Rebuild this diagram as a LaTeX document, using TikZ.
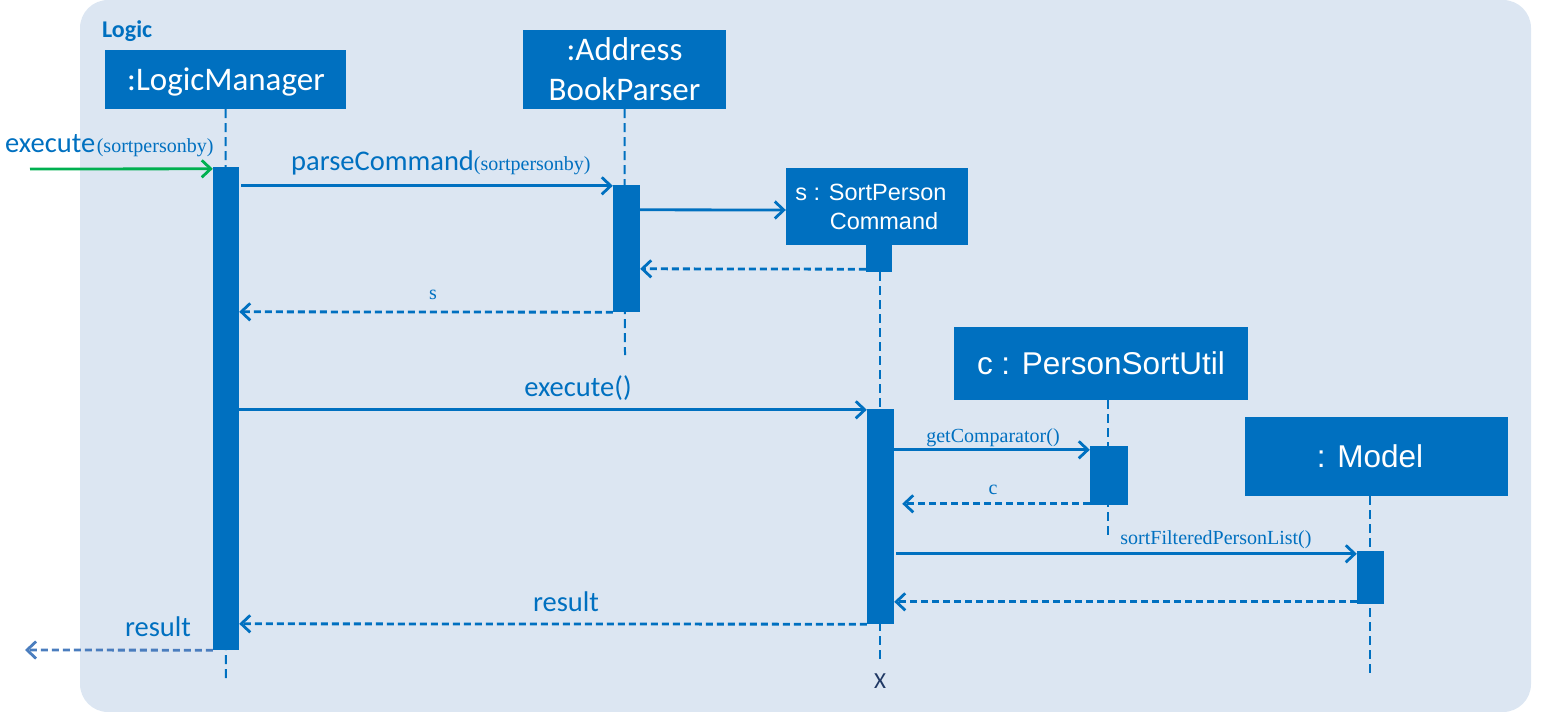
\documentclass[tikz,border=0pt]{standalone}
\usepackage{fontspec}
\setmainfont{Carlito}
\newfontfamily\arialf{Liberation Sans}
\newfontfamily\timesf{Liberation Serif}
\usetikzlibrary{arrows.meta,calc}
\definecolor{ublue}{HTML}{0070C0}
\definecolor{bgc}{HTML}{DCE6F2}
\definecolor{ugreen}{HTML}{00B050}
\definecolor{navy}{HTML}{1F3864}
\definecolor{outblue}{RGB}{74,125,190}
\begin{document}
\begin{tikzpicture}[x=1pt,y=-1pt,
  objbox/.style={fill=ublue,text=white,inner sep=0pt,align=center},
  actbar/.style={fill=ublue,inner sep=0pt,minimum width=26pt},
  lifeline/.style={draw=ublue,line width=2pt,dash pattern=on 9pt off 5pt},
  msg/.style={draw=ublue,line width=2.8pt,-{Straight Barb[length=9pt,width=17pt]}},
  ret/.style={msg,dash pattern=on 7pt off 4pt},
  lbl/.style={text=ublue,inner sep=0pt,anchor=base},
  bigf/.style={font=\fontsize{28.5}{34}\selectfont},
  smallf/.style={font=\timesf\fontsize{20}{24}\selectfont},
  calbox/.style={font=\fontsize{33}{40}\selectfont},
]
\useasboundingbox (0,0) rectangle (1564,712);
\fill[bgc,rounded corners=28pt] (80,0) rectangle (1531,712);
\node[lbl,anchor=base west,font=\bfseries\fontsize{24}{28}\selectfont] (logic) at (102,37) {Logic};

% object boxes
\node[objbox,minimum width=241pt,minimum height=59pt] (lm) at (225.5,79.5) {};
\node[text=white,inner sep=0pt,calbox] (lmtext) at (226,82) {:LogicManager};
\node[objbox,calbox,minimum width=203pt,minimum height=79pt] (abp) at (624.5,69.5) {:Address\\BookParser};
\node[objbox,font=\arialf\fontsize{23.5}{29}\selectfont,minimum width=182pt,minimum height=77pt] (spc) at (877,206.5) {s : SortPerson\hspace*{12pt}\\\hspace*{14pt}Command};
\node[objbox,font=\arialf\fontsize{31.5}{38}\selectfont,minimum width=294pt,minimum height=73pt] (psu) at (1101,363.5) {c : PersonSortUtil};
\node[objbox,font=\arialf\fontsize{31.5}{38}\selectfont,minimum width=263pt,minimum height=79pt] (mdl) at (1376,456.5) {: Model\hspace*{12pt}};

% lifeline ends
\coordinate (lmEnd) at (226,683);
\coordinate (abpEnd) at (625,355);
\coordinate (spcEnd) at (880,660);
\coordinate (psuEnd) at (1108,535);
\coordinate (mdlEnd) at (1370,675);

\node[actbar,minimum height=27pt] (a3) at (879,258.5) {};

\draw[lifeline] (lm.south) -- (lmEnd);
\draw[lifeline] (abp.south) -- (abpEnd);
\draw[lifeline] (a3.south) ++(1pt,0) -- (spcEnd);
\draw[lifeline] (psu.south) ++(7pt,0) -- (psuEnd);
\draw[lifeline] (mdl.south) ++(-6pt,0) -- (mdlEnd);

% activation bars
\node[actbar,minimum height=483pt] (a1) at (226,408.5) {};
\node[actbar,minimum width=27pt,minimum height=127pt] (a2) at (626.5,248.5) {};
\node[actbar,minimum width=27pt,minimum height=215pt] (a4) at (880.5,516.5) {};
\node[actbar,minimum width=38pt,minimum height=59pt] (a5) at (1109,475.5) {};
\node[actbar,minimum width=27pt,minimum height=53pt] (a6) at (1370.5,577.5) {};

\node[text=navy,inner sep=0pt,font=\fontsize{23}{28}\selectfont] (xmark) at (880,681) {X};

% messages
\coordinate (gstart) at (30,169);
\draw[msg,draw=ugreen] (gstart) -- ([yshift=-2pt]a1.north west);
\node[lbl,anchor=base west] (lexec) at (5,152) {{\fontsize{28.5}{34}\selectfont execute}\,{\timesf\fontsize{20}{24}\selectfont(sortpersonby)}};

\draw[msg] ([xshift=2pt,yshift=-19pt]a1.north east) -- ([yshift=-1pt]a2.north west);
\node[lbl,anchor=base west] (lparse) at (291,170) {{\fontsize{28.5}{34}\selectfont parseCommand}{\timesf\fontsize{20}{24}\selectfont(sortpersonby)}};

\draw[msg] ([yshift=-25pt]a2.north east) -- ([yshift=-3.5pt]spc.west);
\draw[ret] ([yshift=3pt]a3.south west) -- ([yshift=-84pt]a2.north east);
\draw[ret] (a2.south west) -- ([yshift=-145pt]a1.north east);
\node[lbl,smallf] (ls) at (433,299) {s};

\draw[msg] ([yshift=-243pt]a1.north east) -- ([yshift=-1pt]a4.north west);
\node[lbl,bigf] (lexe2) at (578,396) {execute()};

\draw[msg] ([yshift=-41pt]a4.north east) -- ([yshift=-4pt]a5.north west);
\node[lbl,smallf] (lget) at (993,442) {getComparator()};

\draw[ret] ([yshift=-58pt]a5.north west) -- ([xshift=8pt,yshift=-95pt]a4.north east);
\node[lbl,smallf] (lc) at (993,494) {c};

\draw[msg] ([xshift=2pt,yshift=-145pt]a4.north east) -- ([yshift=-3pt]a6.north west);
\node[lbl,smallf] (lsort) at (1216,544) {sortFilteredPersonList()};

\draw[ret] ([yshift=-51pt]a6.north west) -- ([yshift=-193pt]a4.north east);

\draw[ret] (a4.south west) -- ([yshift=-457pt]a1.north east);
\node[lbl,bigf] (lres1) at (566,611) {result};

\coordinate (outEnd) at (25,650);
\draw[ret,draw=outblue] (a1.south west) -- (outEnd);
\node[lbl,bigf] (lres2) at (158,636) {result};
\end{tikzpicture}
\end{document}
